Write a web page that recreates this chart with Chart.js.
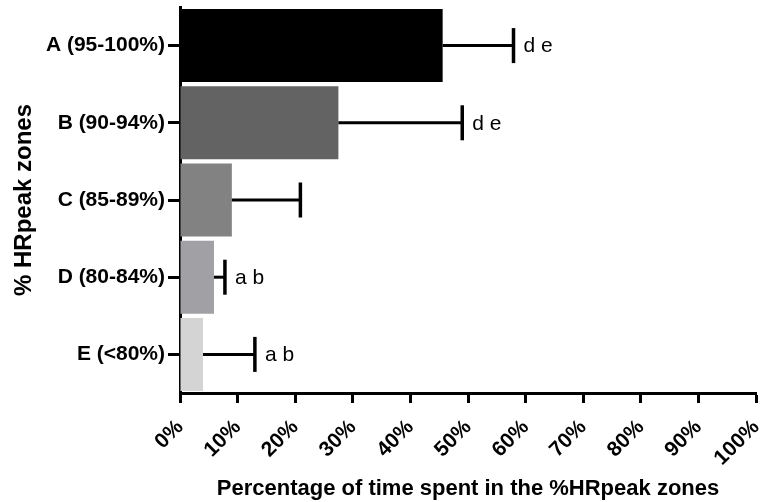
<!DOCTYPE html>
<html>
<head>
<meta charset="utf-8">
<script src="https://cdn.jsdelivr.net/npm/chart.js@4"></script>
<style>
html,body{margin:0;padding:0;background:#fff;}
#wrap{width:762px;height:502px;position:relative;}
</style>
</head>
<body>
<div id="wrap"><canvas id="c"></canvas></div>
<script>
const categories = ["A (95-100%)", "B (90-94%)", "C (85-89%)", "D (80-84%)", "E (<80%)"];
const meanValues = [45.6, 27.5, 9.0, 5.9, 4.0];
const sdValues = [12.3, 21.5, 11.9, 1.9, 9.0];
const significance = ["d e", "d e", "", "a b", "a b"];
const xTicks = [0,10,20,30,40,50,60,70,80,90,100];
const barColors = ["#000000", "#636363", "#828282", "#a1a1a5", "#d4d4d4"];

const FONT = "'Liberation Sans', Arial, sans-serif";

const errorBarPlugin = {
  id: 'errorBars',
  afterDatasetsDraw(chart) {
    const ctx = chart.ctx;
    const xs = chart.scales.x, ys = chart.scales.y;
    ctx.save();
    ctx.strokeStyle = '#000';
    ctx.lineWidth = 3;
    ctx.fillStyle = '#000';
    ctx.font = "21px " + FONT;
    ctx.textBaseline = 'middle';
    ctx.textAlign = 'left';
    meanValues.forEach((v, i) => {
      const y = ys.getPixelForValue(i);
      const x0 = xs.getPixelForValue(v);
      const x1 = xs.getPixelForValue(v + sdValues[i]);
      ctx.beginPath();
      ctx.moveTo(x0, y);
      ctx.lineTo(x1, y);
      ctx.stroke();
      ctx.lineWidth = 3.5;
      ctx.beginPath();
      ctx.moveTo(x1, y - 17.5);
      ctx.lineTo(x1, y + 17.5);
      ctx.stroke();
      ctx.lineWidth = 3;
      if (significance[i]) {
        ctx.fillText(significance[i], x1 + 10, y + 1);
      }
    });
    ctx.restore();
  }
};

new Chart(document.getElementById('c'), {
  type: 'bar',
  data: {
    labels: categories,
    datasets: [{
      data: meanValues,
      backgroundColor: barColors,
      borderWidth: 0,
      barPercentage: 0.945,
      categoryPercentage: 1.0
    }]
  },
  options: {
    indexAxis: 'y',
    responsive: true,
    maintainAspectRatio: false,
    animation: false,
    layout: { padding: { top: 7, right: 6, left: 10, bottom: 0 } },
    plugins: { legend: { display: false }, tooltip: { enabled: false } },
    scales: {
      x: {
        type: 'linear',
        min: 0,
        max: 100,
        afterBuildTicks(axis) { axis.ticks = xTicks.map(v => ({ value: v })); },
        afterFit(axis) { axis.height = 502 - 393; axis.paddingLeft = 0; axis.paddingRight = 0; },
        grid: { drawOnChartArea: false, tickLength: 10, tickWidth: 3, tickColor: '#000' },
        border: { color: '#000', width: 3 },
        ticks: {
          color: '#000',
          font: { family: FONT, size: 21, weight: 'bold' },
          minRotation: 45,
          maxRotation: 45,
          padding: 12,
          callback: v => v + '%'
        },
        title: {
          display: true,
          text: 'Percentage of time spent in the %HRpeak zones',
          color: '#000',
          font: { family: FONT, size: 22, weight: 'bold' },
          padding: { top: 0, bottom: 0 }
        }
      },
      y: {
        afterFit(axis) { axis.width = 180 - 10; axis.paddingTop = 0; axis.paddingBottom = 0; },
        grid: { drawOnChartArea: false, offset: false, tickLength: 12, tickWidth: 3, tickColor: '#000' },
        border: { color: '#000', width: 3 },
        ticks: {
          color: '#000',
          font: { family: FONT, size: 21, weight: 'bold' },
          padding: 3
        },
        title: {
          display: true,
          text: '% HRpeak zones',
          color: '#000',
          font: { family: FONT, size: 24, weight: 'bold' },
          padding: { top: 0, bottom: 0 }
        }
      }
    }
  },
  plugins: [errorBarPlugin]
});
</script>
</body>
</html>
